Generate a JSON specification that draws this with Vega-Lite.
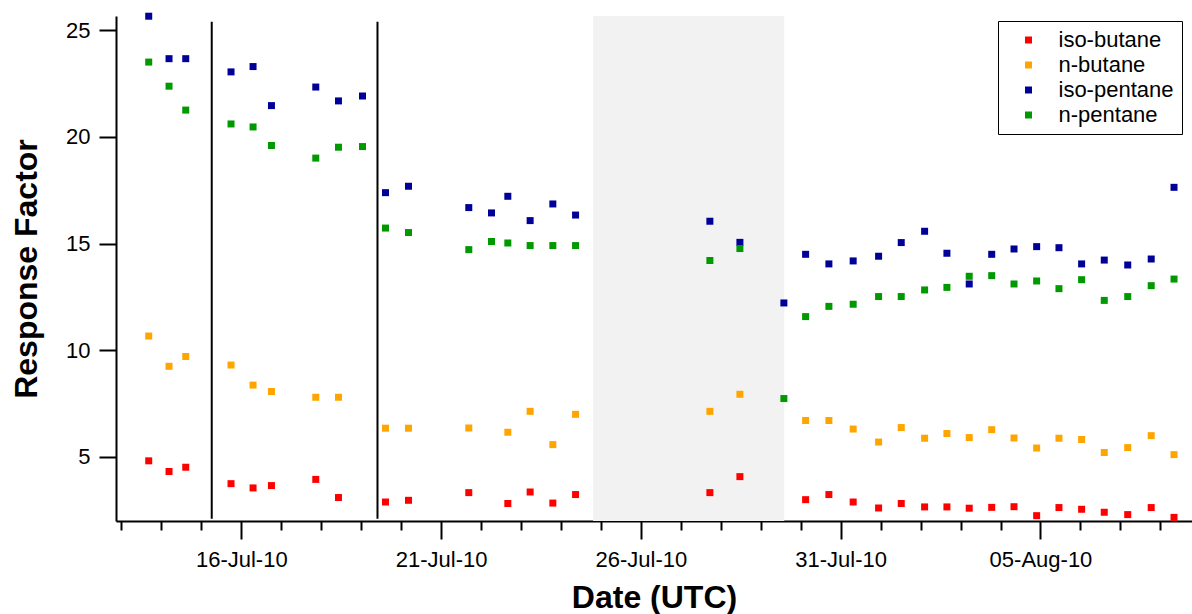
{
  "$schema": "https://vega.github.io/schema/vega-lite/v6.json",
  "autosize": "none",
  "width": 1076,
  "height": 505,
  "padding": {"left": 116, "top": 16, "right": 0, "bottom": 93},
  "background": "white",
  "view": {"stroke": null},
  "config": {
    "font": "Liberation Sans",
    "axis": {
      "domainColor": "black", "domainWidth": 2, "tickColor": "black", "tickWidth": 2,
      "labelColor": "black", "labelFont": "Liberation Sans", "labelFontSize": 22,
      "titleColor": "black", "titleFont": "Liberation Sans", "titleFontSize": 32, "titleFontWeight": "bold",
      "grid": false
    }
  },
  "resolve": {"axis": {"x": "independent"}},
  "layer": [
    {
      "data": {"values": [{"start": "2010-07-24T19:20", "end": "2010-07-29T14:06"}]},
      "mark": {"type": "rect", "color": "#f2f2f2"},
      "encoding": {
        "x": {
          "field": "start", "type": "temporal",
          "scale": {"domain": [{"year": 2010, "month": 7, "date": 12, "hours": 20, "minutes": 45}, {"year": 2010, "month": 8, "date": 8, "hours": 19}], "nice": false},
          "axis": {
            "orient": "bottom", "title": null, "labels": false, "domain": false, "tickSize": 9,
            "values": [
              {"year": 2010, "month": 7, "date": 13}, {"year": 2010, "month": 7, "date": 14}, {"year": 2010, "month": 7, "date": 15},
              {"year": 2010, "month": 7, "date": 17}, {"year": 2010, "month": 7, "date": 18}, {"year": 2010, "month": 7, "date": 19},
              {"year": 2010, "month": 7, "date": 20}, {"year": 2010, "month": 7, "date": 22}, {"year": 2010, "month": 7, "date": 23},
              {"year": 2010, "month": 7, "date": 24}, {"year": 2010, "month": 7, "date": 25}, {"year": 2010, "month": 7, "date": 27},
              {"year": 2010, "month": 7, "date": 28}, {"year": 2010, "month": 7, "date": 29}, {"year": 2010, "month": 7, "date": 30},
              {"year": 2010, "month": 8, "date": 1}, {"year": 2010, "month": 8, "date": 2}, {"year": 2010, "month": 8, "date": 3},
              {"year": 2010, "month": 8, "date": 4}, {"year": 2010, "month": 8, "date": 6}, {"year": 2010, "month": 8, "date": 7},
              {"year": 2010, "month": 8, "date": 8}
            ]
          }
        },
        "x2": {"field": "end"}
      }
    },
    {
      "data": {"values": [
        {"t": "2010-07-15T06:15", "top": 25.4, "bottom": 2.1},
        {"t": "2010-07-19T09:48", "top": 25.4, "bottom": 2.1}
      ]},
      "mark": {"type": "rule", "color": "black", "strokeWidth": 2},
      "encoding": {
        "x": {"field": "t", "type": "temporal", "axis": null},
        "y": {
          "field": "top", "type": "quantitative",
          "scale": {"domain": [2, 25.67], "nice": false, "zero": false},
          "axis": {"title": "Response Factor", "values": [5, 10, 15, 20, 25], "tickSize": 17, "labelPadding": 9, "titlePadding": 22}
        },
        "y2": {"field": "bottom"}
      }
    },
    {
      "data": {"values": [
        {"t": "2010-07-13T16:24", "iso-butane": 4.82, "n-butane": 10.67, "iso-pentane": 25.66, "n-pentane": 23.51},
        {"t": "2010-07-14T04:36", "iso-butane": 4.32, "n-butane": 9.25, "iso-pentane": 23.67, "n-pentane": 22.38},
        {"t": "2010-07-14T14:38", "iso-butane": 4.52, "n-butane": 9.71, "iso-pentane": 23.67, "n-pentane": 21.26},
        {"t": "2010-07-15T17:50", "iso-butane": 3.75, "n-butane": 9.31, "iso-pentane": 23.05, "n-pentane": 20.61},
        {"t": "2010-07-16T07:04", "iso-butane": 3.55, "n-butane": 8.37, "iso-pentane": 23.30, "n-pentane": 20.47},
        {"t": "2010-07-16T18:07", "iso-butane": 3.66, "n-butane": 8.07, "iso-pentane": 21.47, "n-pentane": 19.60},
        {"t": "2010-07-17T20:44", "iso-butane": 3.95, "n-butane": 7.80, "iso-pentane": 22.34, "n-pentane": 19.01},
        {"t": "2010-07-18T10:22", "iso-butane": 3.10, "n-butane": 7.80, "iso-pentane": 21.69, "n-pentane": 19.52},
        {"t": "2010-07-19T00:47", "iso-pentane": 21.92, "n-pentane": 19.55},
        {"t": "2010-07-19T14:36", "iso-butane": 2.89, "n-butane": 6.35, "iso-pentane": 17.39, "n-pentane": 15.73},
        {"t": "2010-07-20T04:25", "iso-butane": 2.97, "n-butane": 6.35, "iso-pentane": 17.69, "n-pentane": 15.52},
        {"t": "2010-07-21T16:38", "iso-butane": 3.33, "n-butane": 6.36, "iso-pentane": 16.69, "n-pentane": 14.72},
        {"t": "2010-07-22T06:17", "iso-pentane": 16.44, "n-pentane": 15.10},
        {"t": "2010-07-22T16:05", "iso-butane": 2.82, "n-butane": 6.16, "iso-pentane": 17.22, "n-pentane": 15.03},
        {"t": "2010-07-23T05:29", "iso-butane": 3.36, "n-butane": 7.14, "iso-pentane": 16.08, "n-pentane": 14.91},
        {"t": "2010-07-23T19:07", "iso-butane": 2.84, "n-butane": 5.58, "iso-pentane": 16.86, "n-pentane": 14.91},
        {"t": "2010-07-24T08:46", "iso-butane": 3.24, "n-butane": 7.00, "iso-pentane": 16.34, "n-pentane": 14.91},
        {"t": "2010-07-27T17:26", "iso-butane": 3.33, "n-butane": 7.14, "iso-pentane": 16.05, "n-pentane": 14.21},
        {"t": "2010-07-28T11:28", "iso-butane": 4.08, "n-butane": 7.94, "iso-pentane": 15.06, "n-pentane": 14.77},
        {"t": "2010-07-29T13:53", "iso-pentane": 12.22, "n-pentane": 7.74},
        {"t": "2010-07-30T02:56", "iso-butane": 3.00, "n-butane": 6.71, "iso-pentane": 14.50, "n-pentane": 11.58},
        {"t": "2010-07-30T16:55", "iso-butane": 3.24, "n-butane": 6.71, "iso-pentane": 14.05, "n-pentane": 12.06},
        {"t": "2010-07-31T07:30", "iso-butane": 2.89, "n-butane": 6.31, "iso-pentane": 14.19, "n-pentane": 12.16},
        {"t": "2010-07-31T22:46", "iso-butane": 2.61, "n-butane": 5.70, "iso-pentane": 14.41, "n-pentane": 12.52},
        {"t": "2010-08-01T12:22", "iso-butane": 2.82, "n-butane": 6.38, "iso-pentane": 15.05, "n-pentane": 12.52},
        {"t": "2010-08-02T02:24", "iso-butane": 2.66, "n-butane": 5.88, "iso-pentane": 15.58, "n-pentane": 12.83},
        {"t": "2010-08-02T15:48", "iso-butane": 2.66, "n-butane": 6.10, "iso-pentane": 14.55, "n-pentane": 12.95},
        {"t": "2010-08-03T05:12", "iso-butane": 2.60, "n-butane": 5.91, "iso-pentane": 13.11, "n-pentane": 13.47},
        {"t": "2010-08-03T18:42", "iso-butane": 2.64, "n-butane": 6.28, "iso-pentane": 14.50, "n-pentane": 13.50},
        {"t": "2010-08-04T08:06", "iso-butane": 2.67, "n-butane": 5.89, "iso-pentane": 14.75, "n-pentane": 13.11},
        {"t": "2010-08-04T21:42", "iso-butane": 2.25, "n-butane": 5.42, "iso-pentane": 14.86, "n-pentane": 13.25},
        {"t": "2010-08-05T11:06", "iso-butane": 2.63, "n-butane": 5.88, "iso-pentane": 14.81, "n-pentane": 12.89},
        {"t": "2010-08-06T00:42", "iso-butane": 2.55, "n-butane": 5.82, "iso-pentane": 14.05, "n-pentane": 13.31},
        {"t": "2010-08-06T14:18", "iso-butane": 2.41, "n-butane": 5.21, "iso-pentane": 14.23, "n-pentane": 12.34},
        {"t": "2010-08-07T04:24", "iso-butane": 2.30, "n-butane": 5.44, "iso-pentane": 14.00, "n-pentane": 12.52},
        {"t": "2010-08-07T18:30", "iso-butane": 2.63, "n-butane": 6.00, "iso-pentane": 14.28, "n-pentane": 13.03},
        {"t": "2010-08-08T08:12", "iso-butane": 2.17, "n-butane": 5.11, "iso-pentane": 17.64, "n-pentane": 13.34}
      ]},
      "transform": [
        {"fold": ["iso-butane", "n-butane", "iso-pentane", "n-pentane"], "as": ["compound", "value"]},
        {"filter": "isValid(datum.value)"}
      ],
      "mark": {"type": "square", "size": 49, "opacity": 1, "filled": true},
      "encoding": {
        "x": {
          "field": "t", "type": "temporal",
          "scale": {"domain": [{"year": 2010, "month": 7, "date": 12, "hours": 20, "minutes": 45}, {"year": 2010, "month": 8, "date": 8, "hours": 19}], "nice": false},
          "axis": {
            "orient": "bottom",
            "title": "Date (UTC)", "titlePadding": 12,
            "format": "%d-%b-%y",
            "values": [
              {"year": 2010, "month": 7, "date": 16}, {"year": 2010, "month": 7, "date": 21}, {"year": 2010, "month": 7, "date": 26},
              {"year": 2010, "month": 7, "date": 31}, {"year": 2010, "month": 8, "date": 5}
            ],
            "tickSize": 18,
            "labelPadding": 10
          }
        },
        "y": {
          "field": "value", "type": "quantitative",
          "scale": {"domain": [2, 25.67], "nice": false, "zero": false},
          "title": "Response Factor"
        },
        "color": {
          "field": "compound", "type": "nominal",
          "scale": {"domain": ["iso-butane", "n-butane", "iso-pentane", "n-pentane"], "range": ["#ff0000", "#ffa500", "#000099", "#009900"]},
          "legend": {
            "title": null, "orient": "none", "legendX": 882, "legendY": 5,
            "symbolType": "square", "symbolSize": 49, "symbolOffset": 11.5,
            "labelFont": "Liberation Sans", "labelFontSize": 22, "labelColor": "black", "labelOffset": 19,
            "rowPadding": 3, "padding": 8,
            "fillColor": "white", "strokeColor": "black",
            "encode": {"legend": {"update": {"strokeWidth": {"value": 2}}}}
          }
        }
      }
    }
  ]
}
